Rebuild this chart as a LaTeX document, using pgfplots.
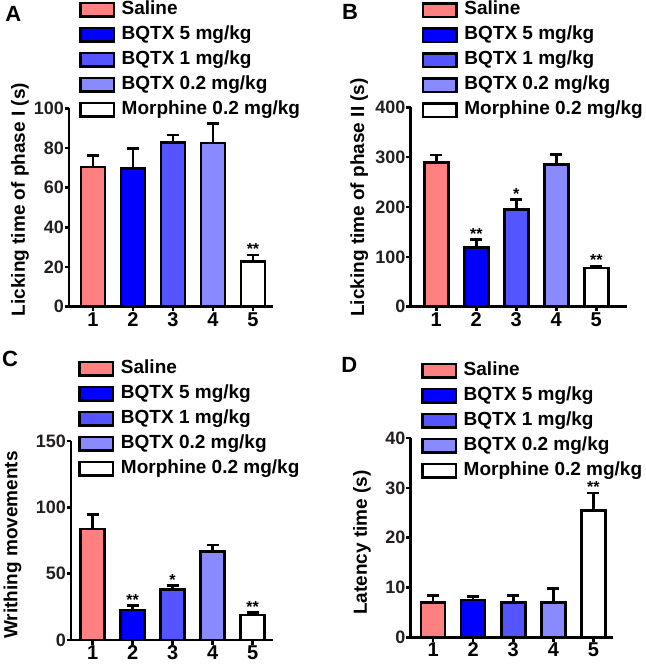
\documentclass[border=0pt]{standalone}
\usepackage{fontspec}
\setmainfont{Liberation Sans}
\usepackage{pgfplots}
\pgfplotsset{compat=1.18}
\definecolor{cSal}{RGB}{255,128,128}
\definecolor{cBa}{RGB}{0,0,255}
\definecolor{cBb}{RGB}{85,85,255}
\definecolor{cBc}{RGB}{138,138,255}
\definecolor{tk}{RGB}{35,31,32}
\tikzset{sig/.style={anchor=base, inner sep=0pt, font=\fontsize{16}{16}\selectfont\bfseries}}
\pgfplotsset{
  barbox/.style={legend image code/.code={\draw[##1] (0pt,-6.75pt) rectangle (33.5pt,6.75pt);}},
  bars/.style={bar shift=0pt, draw=black, line width=2.5pt, fill=#1, barbox,
    /pgfplots/error bars/y dir=plus, /pgfplots/error bars/y explicit,
    /pgfplots/error bars/error bar style={line width=2.5pt, black},
    /pgfplots/error bars/error mark options={line width=2.5pt, black, mark size=6pt, rotate=90}},
  panel/.style={
    scale only axis, anchor=south west, ybar, bar width=24pt,
    axis lines*=left, axis line style={line width=2.5pt, black},
    tick align=outside, major tick length=4.5pt,
    tick style={line width=2.5pt, black},
    xtick={1,2,3,4,5}, ymin=0,
    /pgf/number format/assume math mode=true,
    yticklabel style={font=\fontsize{18}{18}\selectfont\bfseries, text=tk, inner sep=0.5pt},
    xticklabel style={font=\fontsize{20}{20}\selectfont\bfseries, text=black, inner sep=1pt},
    ylabel style={font=\fontsize{19}{19}\selectfont\bfseries, anchor=center},
    legend style={draw=none, fill=none, anchor=north west, inner sep=0pt,
      font=\fontsize{19}{19}\selectfont\bfseries, row sep=7.5pt,
      nodes={inner ysep=0pt, inner xsep=6.5pt, text height=13.5pt, text depth=4pt}},
    legend cell align=left,
  },
}
\begin{document}
\begin{tikzpicture}
\path[use as bounding box] (0pt,0pt) rectangle (645pt,666pt);
% Panel A
\begin{axis}[panel, at={(69pt,359.3pt)}, width=204pt, height=198.4pt,
  xmin=0.4, xmax=5.5, ymax=100, ytick={0,20,40,60,80,100},
  ylabel={Licking time of phase I (s)},
  ylabel style={at={(axis description cs:-0.240,0.54)}},
  legend style={at={(0.049,1.541)}}]
\addplot[bars=cSal] coordinates {(1,70.5) +- (0,5.8)};
\addplot[bars=cBa] coordinates {(2,69.7) +- (0,10.0)};
\addplot[bars=cBb] coordinates {(3,82.8) +- (0,3.8)};
\addplot[bars=cBc] coordinates {(4,82.4) +- (0,10.0)};
\addplot[bars=white] coordinates {(5,22.7) +- (0,3.4)};
\legend{Saline, BQTX 5 mg/kg, BQTX 1 mg/kg, BQTX 0.2 mg/kg, Morphine 0.2 mg/kg}
\node[sig] at (axis cs:5,26.1) {**};
\end{axis}
% Panel B
\begin{axis}[panel, at={(410.7pt,359.3pt)}, width=216pt, height=199.3pt,
  xmin=0.36, xmax=5.76, ymax=400, ytick={0,100,200,300,400},
  ylabel={Licking time of phase II (s)},
  ylabel style={at={(axis description cs:-0.238,0.548)}},
  legend style={at={(0.051,1.533)}}]
\addplot[bars=cSal] coordinates {(1,289) +- (0,15)};
\addplot[bars=cBa] coordinates {(2,119) +- (0,15.5)};
\addplot[bars=cBb] coordinates {(3,195) +- (0,20.5)};
\addplot[bars=cBc] coordinates {(4,285) +- (0,20.5)};
\addplot[bars=white] coordinates {(5,78) +- (0,4)};
\legend{Saline, BQTX 5 mg/kg, BQTX 1 mg/kg, BQTX 0.2 mg/kg, Morphine 0.2 mg/kg}
\node[sig] at (axis cs:2,134.5) {**};
\node[sig] at (axis cs:3,215.5) {*};
\node[sig] at (axis cs:5,82) {**};
\end{axis}
% Panel C
\begin{axis}[panel, at={(71pt,26pt)}, width=202pt, height=199pt,
  xmin=0.46, xmax=5.51, ymax=150, ytick={0,50,100,150},
  ylabel={Writhing movements},
  ylabel style={at={(axis description cs:-0.290,0.477)}},
  legend style={at={(0.036,1.407)}}]
\addplot[bars=cSal] coordinates {(1,83.5) +- (0,11.2)};
\addplot[bars=cBa] coordinates {(2,22.6) +- (0,3.5)};
\addplot[bars=cBb] coordinates {(3,38.2) +- (0,2.8)};
\addplot[bars=cBc] coordinates {(4,66.8) +- (0,4.8)};
\addplot[bars=white] coordinates {(5,18.8) +- (0,1.8)};
\legend{Saline, BQTX 5 mg/kg, BQTX 1 mg/kg, BQTX 0.2 mg/kg, Morphine 0.2 mg/kg}
\node[sig] at (axis cs:2,26.1) {**};
\node[sig] at (axis cs:3,41) {*};
\node[sig] at (axis cs:5,20.6) {**};
\end{axis}
% Panel D
\begin{axis}[panel, at={(410.7pt,28.7pt)}, width=202.7pt, height=199.3pt,
  xmin=0.44, xmax=5.5, ymax=40, ytick={0,10,20,30,40},
  ylabel={Latency time (s)},
  ylabel style={at={(axis description cs:-0.240,0.476)}},
  legend style={at={(0.051,1.383)}}]
\addplot[bars=cSal] coordinates {(1,7.0) +- (0,1.4)};
\addplot[bars=cBa] coordinates {(2,7.5) +- (0,0.7)};
\addplot[bars=cBb] coordinates {(3,7.0) +- (0,1.4)};
\addplot[bars=cBc] coordinates {(4,7.0) +- (0,2.8)};
\addplot[bars=white] coordinates {(5,25.4) +- (0,3.6)};
\legend{Saline, BQTX 5 mg/kg, BQTX 1 mg/kg, BQTX 0.2 mg/kg, Morphine 0.2 mg/kg}
\node[sig] at (axis cs:5,29.0) {**};
\end{axis}
\node[inner sep=0pt, font=\fontsize{22}{22}\selectfont\bfseries] at (13.3pt,652.2pt) {A};
\node[inner sep=0pt, font=\fontsize{22}{22}\selectfont\bfseries] at (350pt,654.3pt) {B};
\node[inner sep=0pt, font=\fontsize{22}{22}\selectfont\bfseries] at (10pt,307.3pt) {C};
\node[inner sep=0pt, font=\fontsize{22}{22}\selectfont\bfseries] at (349.2pt,301pt) {D};
\end{tikzpicture}
\end{document}
